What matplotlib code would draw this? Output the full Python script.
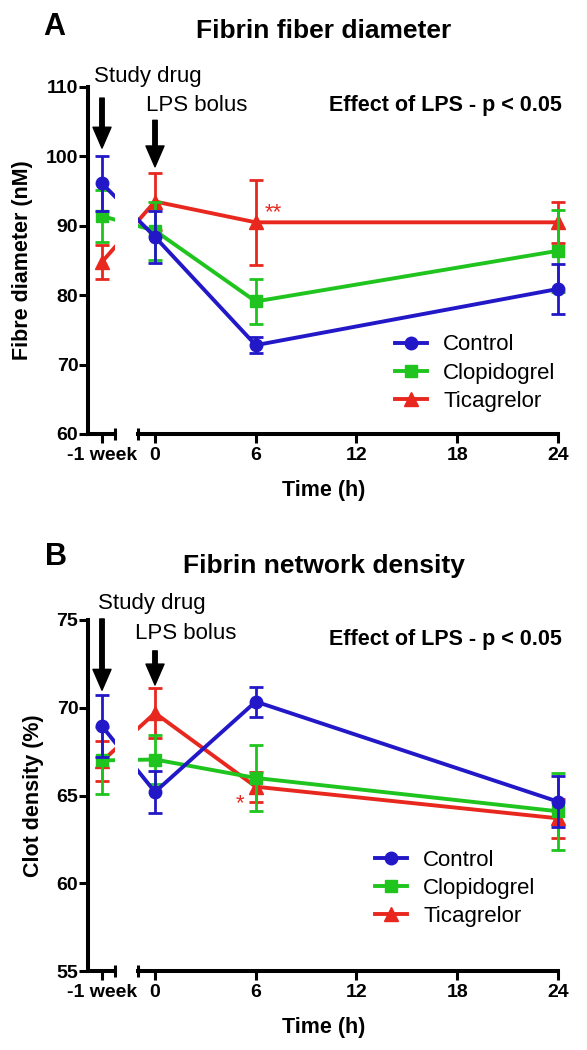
import matplotlib
matplotlib.use('Agg')
import matplotlib.pyplot as plt
from matplotlib.lines import Line2D

plt.rcParams['font.family'] = ['Liberation Sans', 'DejaVu Sans']
plt.rcParams['font.weight'] = 'bold'
plt.rcParams['axes.labelweight'] = 'bold'

# groups
groups = ['Control', 'Clopidogrel', 'Ticagrelor']
colors = ['#2318c8', '#1fc41f', '#e8281e']
markers = ['o', 's', '^']
msizes = [9, 8, 9.5]

# time points: baseline (-1 week) then hours after LPS
week_label = '-1 week'
hours = [0, 6, 24]
hour_ticks = [0, 6, 12, 18, 24]

# fibre diameter (nM): baseline, 0 h, 6 h, 24 h
ctrl_diam = [96.1, 88.4, 72.8, 80.9]
ctrl_diam_err = [4.0, 3.7, 1.2, 3.6]
clop_diam = [91.4, 89.3, 79.1, 86.4]
clop_diam_err = [3.8, 4.2, 3.3, 5.9]
tica_diam = [84.8, 93.5, 90.5, 90.5]
tica_diam_err = [2.5, 4.1, 6.1, 3.0]

# clot density (%)
ctrl_dens = [68.95, 65.2, 70.35, 64.65]
ctrl_dens_err = [1.75, 1.2, 0.85, 1.45]
clop_dens = [67.0, 67.05, 66.0, 64.1]
clop_dens_err = [1.9, 1.4, 1.9, 2.2]
tica_dens = [66.95, 69.7, 65.5, 63.7]
tica_dens_err = [1.15, 1.45, 0.85, 1.1]

W, H = 587, 1050
PX0 = 155      # pixel of t = 0
PPH = 16.79    # pixels per hour


def hx(px):
    return (px - PX0) / PPH


WEEK_X = hx(102)

fig = plt.figure(figsize=(W / 100, H / 100), dpi=100)


def make_panel(ytop, ybot, ylim, yticks, ylabel):
    axl = fig.add_axes([88 / W, 1 - ybot / H, 27 / W, (ybot - ytop) / H])
    axm = fig.add_axes([138 / W, 1 - ybot / H, (566 - 138) / W, (ybot - ytop) / H])
    axl.set_xlim(hx(88), hx(115))
    axm.set_xlim(hx(138), hx(566))
    for ax in (axl, axm):
        ax.set_ylim(*ylim)
        ax.spines['top'].set_visible(False)
        ax.spines['right'].set_visible(False)
        for s in ax.spines.values():
            s.set_linewidth(2.9)
        ax.tick_params(direction='out', length=6.5, width=2.2, labelsize=14)
        ax.tick_params(axis='y', pad=0.5)
        ax.tick_params(axis='x', pad=3)
        ax.patch.set_visible(False)
    axm.spines['left'].set_visible(False)
    axm.spines['bottom'].set_bounds(hx(138), 24)
    axm.set_yticks([])
    axl.set_yticks(yticks)
    axl.set_xticks([WEEK_X])
    axl.set_xticklabels([week_label])
    axm.set_xticks(hour_ticks)
    axl.set_ylabel(ylabel, fontsize=15.5, labelpad=9, fontweight='bold')
    axm.set_xlabel('Time (h)', fontsize=15.5, fontweight='bold')
    axm.xaxis.set_label_coords((324 - 138) / 428, -0.132)
    # axis break caps
    axl.plot([hx(115)], [0], transform=axl.get_xaxis_transform(), marker='|',
             ms=9, mew=2.2, color='k', clip_on=False)
    axm.plot([hx(138)], [0], transform=axm.get_xaxis_transform(), marker='|',
             ms=9, mew=2.2, color='k', clip_on=False)
    return axl, axm


def draw(axs, means, errs):
    x = [WEEK_X] + hours
    for i in [2, 1, 0]:
        z = 10 - 2 * i
        for ax in axs:
            ax.errorbar(x, means[i], yerr=errs[i], fmt='none', ecolor=colors[i],
                        elinewidth=2, capsize=4.7, capthick=2, zorder=z)
            ax.plot(x, means[i], color=colors[i], marker=markers[i], ms=msizes[i],
                    lw=2.8, zorder=z + 1)


def legend(ax, xpx, ypx):
    handles = [Line2D([], [], color=colors[i], marker=markers[i], ms=msizes[i], lw=2.8)
               for i in range(3)]
    ax.legend(handles, groups, loc='center left', bbox_to_anchor=(xpx / W, 1 - ypx / H),
              bbox_transform=fig.transFigure, frameon=False, handlelength=1.45,
              handletextpad=0.72, labelspacing=0.32, borderpad=0, borderaxespad=0,
              numpoints=1, prop={'size': 16, 'weight': 'normal'})


def arrow(ax, x, tail, tip):
    ax.annotate('', xy=(x, tip), xytext=(x, tail), annotation_clip=False,
                arrowprops=dict(facecolor='black', edgecolor='black', width=3.2,
                                headwidth=13, headlength=15, shrink=0, clip_on=False))


# Panel A
axl, axm = make_panel(87, 434, (60, 110), [60, 70, 80, 90, 100, 110], 'Fibre diameter (nM)')
draw((axl, axm), [ctrl_diam, clop_diam, tica_diam],
     [ctrl_diam_err, clop_diam_err, tica_diam_err])
legend(axm, 395, 373)
arrow(axm, WEEK_X, 108.4, 101.2)
arrow(axm, 0, 105.2, 98.5)
axm.text(hx(94), 110.7, 'Study drug', fontsize=16, weight='normal', clip_on=False)
axm.text(hx(146), 106.6, 'LPS bolus', fontsize=16, weight='normal', clip_on=False)
axm.text(hx(562), 106.5, 'Effect of LPS - p < 0.05', fontsize=15.5, ha='right')
axm.text(7.03, 91.1, '**', fontsize=16, weight='normal', color=colors[2], ha='center')
fig.text(324 / W, 1 - 38 / H, 'Fibrin fiber diameter', fontsize=19, ha='center', va='baseline')
fig.text(43 / W, 1 - 35 / H, 'A', fontsize=22, va='baseline')

# Panel B
axl, axm = make_panel(620, 971, (55, 75), [55, 60, 65, 70, 75], 'Clot density (%)')
draw((axl, axm), [ctrl_dens, clop_dens, tica_dens],
     [ctrl_dens_err, clop_dens_err, tica_dens_err])
legend(axm, 375, 888.6)
arrow(axm, WEEK_X, 75.06, 71.0)
arrow(axm, 0, 73.24, 71.3)
axm.text(hx(98), 75.6, 'Study drug', fontsize=16, weight='normal', clip_on=False)
axm.text(hx(135), 73.9, 'LPS bolus', fontsize=16, weight='normal', clip_on=False)
axm.text(hx(562), 73.6, 'Effect of LPS - p < 0.05', fontsize=15.5, ha='right')
axm.text(5.06, 64.2, '*', fontsize=16, weight='normal', color=colors[2], ha='center')
fig.text(324 / W, 1 - 573 / H, 'Fibrin network density', fontsize=19, ha='center', va='baseline')
fig.text(45 / W, 1 - 565 / H, 'B', fontsize=22, va='baseline')

fig.savefig('out.png', dpi=100)
